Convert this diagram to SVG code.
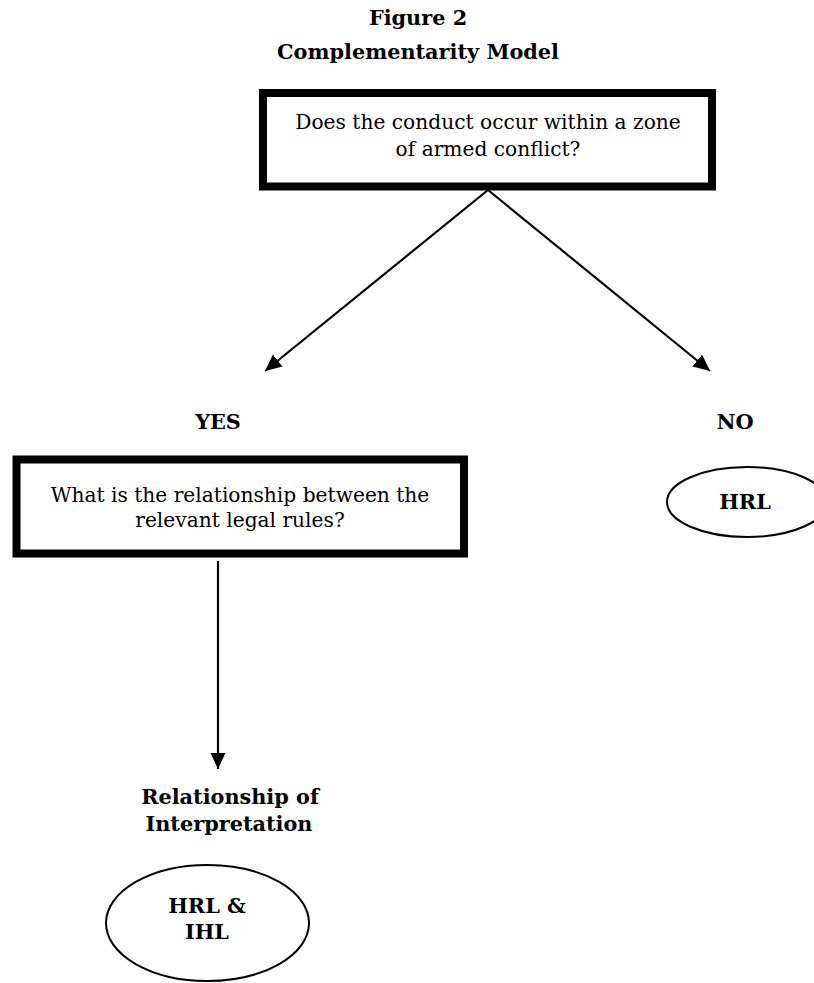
<svg xmlns="http://www.w3.org/2000/svg" width="814" height="983" viewBox="0 0 814 983">
<style>
.box{fill:#fff;stroke:#000;stroke-width:8}
.ell{fill:#fff;stroke:#000;stroke-width:2}
.t{font-family:"DejaVu Serif","Liberation Serif",serif;font-size:20.2px;fill:#000;text-anchor:middle}
.b{font-family:"DejaVu Serif","Liberation Serif",serif;font-size:20.8px;font-weight:bold;fill:#000;text-anchor:middle}
.c{stroke:#000;stroke-width:2.2;fill:none}
</style>
<defs>
<marker id="ah" markerWidth="8" markerHeight="8" refX="7.5" refY="4" orient="auto" markerUnits="strokeWidth">
<path d="M0,0.5 L7.5,4 L0,7.5 Z" fill="#000"/>
</marker>
</defs>
<g id="title">
<text class="b" x="418" y="25">Figure 2</text>
<text class="b" x="418" y="59">Complementarity Model</text>
</g>
<g id="connectors">
<line class="c" x1="488" y1="190" x2="265" y2="371" marker-end="url(#ah)"/>
<line class="c" x1="488" y1="190" x2="710" y2="371" marker-end="url(#ah)"/>
<line class="c" x1="218" y1="561" x2="218" y2="769" marker-end="url(#ah)"/>
</g>
<g id="q1">
<rect class="box" x="263" y="93" width="449" height="93.5"/>
<text class="t" x="488" y="129">Does the conduct occur within a zone</text>
<text class="t" x="488" y="156">of armed conflict?</text>
</g>
<g id="yes"><text class="b" x="218" y="429">YES</text></g>
<g id="no"><text class="b" x="735" y="429">NO</text></g>
<g id="q2">
<rect class="box" x="16.5" y="459.5" width="447.5" height="94"/>
<text class="t" x="240" y="502">What is the relationship between the</text>
<text class="t" x="240" y="527">relevant legal rules?</text>
</g>
<g id="hrl">
<ellipse class="ell" cx="747" cy="502" rx="80" ry="35"/>
<text class="b" x="745" y="509">HRL</text>
</g>
<g id="interp">
<text class="b" x="230" y="804">Relationship of</text>
<text class="b" x="229" y="831">Interpretation</text>
</g>
<g id="both">
<ellipse class="ell" cx="207.5" cy="923" rx="101.5" ry="58"/>
<text class="b" x="207" y="913">HRL &amp;</text>
<text class="b" x="207" y="939">IHL</text>
</g>
</svg>
